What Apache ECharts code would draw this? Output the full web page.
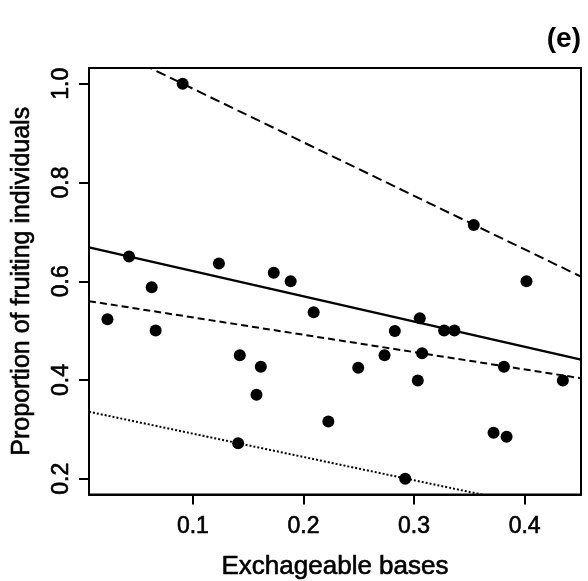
<!DOCTYPE html>
<html>
<head>
<meta charset="utf-8">
<script src="https://cdn.jsdelivr.net/npm/echarts@6/dist/echarts.min.js"></script>
<style>
html,body{margin:0;padding:0;background:#fff;}
#chart{width:588px;height:581px;}
</style>
</head>
<body>
<div id="chart"></div>
<script>
// Observed points: exchangeable bases (x) vs proportion of fruiting individuals (y)
var pointsX = [0.0227, 0.0422, 0.0627, 0.0663, 0.0907, 0.1235, 0.1409, 0.1424, 0.1575, 0.1614,
               0.1731, 0.1884, 0.2092, 0.2225, 0.2495, 0.2733, 0.2826, 0.2920, 0.3034, 0.3052,
               0.3073, 0.3272, 0.3365, 0.3540, 0.3719, 0.3813, 0.3837, 0.4017, 0.4346];
var pointsY = [0.523, 0.650, 0.588, 0.500, 1.000, 0.636, 0.272, 0.450, 0.370, 0.427,
               0.617, 0.600, 0.537, 0.316, 0.425, 0.450, 0.499, 0.200, 0.399, 0.525,
               0.454, 0.500, 0.500, 0.714, 0.293, 0.427, 0.285, 0.600, 0.399];

// Fitted lines (end points)
var lineX = [0.006, 0.451];
var solidY = [0.6686, 0.4412];
var dashedY = [0.5597, 0.4035];
var longDashY = [1.092, 0.6093];
var dottedY = [0.3356, 0.1256];

var xTicks = [0.1, 0.2, 0.3, 0.4];
var yTicks = [0.2, 0.4, 0.6, 0.8, 1.0];

function pairs(xs, ys) { return xs.map(function (x, i) { return [x, ys[i]]; }); }

var FONT = '"Liberation Sans", Arial, Helvetica, sans-serif';
var chart = echarts.init(document.getElementById('chart'), null, {renderer: 'canvas'});

function lineSeries(ys, type, width) {
  return {
    type: 'line',
    data: pairs(lineX, ys),
    showSymbol: false,
    symbol: 'none',
    clip: true,
    silent: true,
    animation: false,
    lineStyle: {color: '#000', width: width, type: type}
  };
}

var textStroke = {textBorderColor: '#000', textBorderWidth: 0.6};

chart.setOption({
  animation: false,
  backgroundColor: '#fff',
  title: {
    text: '(e)',
    right: 2,
    top: 20,
    textStyle: {fontFamily: FONT, fontSize: 28, fontWeight: 'bold', color: '#000'}
  },
  grid: {
    left: 89, top: 68, width: 492, height: 426.5,
    containLabel: false,
    outerBoundsMode: 'none',
    show: true, borderColor: '#000', borderWidth: 2, backgroundColor: 'transparent'
  },
  xAxis: {
    type: 'value',
    min: 0.006, max: 0.451,
    name: 'Exchageable bases',
    nameLocation: 'middle',
    nameGap: 59,
    nameTextStyle: Object.assign({fontFamily: FONT, fontSize: 26, color: '#000'}, textStroke),
    axisLine: {show: true, onZero: false, lineStyle: {color: '#000', width: 2}},
    axisTick: {show: true, length: 10, inside: false, customValues: xTicks, lineStyle: {color: '#000', width: 2}},
    axisLabel: Object.assign({customValues: xTicks, margin: 21, fontFamily: FONT, fontSize: 23, color: '#000',
      formatter: function (v) { return v.toFixed(1); }}, textStroke),
    splitLine: {show: false}
  },
  yAxis: {
    type: 'value',
    min: 0.168, max: 1.032,
    name: 'Proportion of fruiting individuals',
    nameLocation: 'middle',
    nameGap: 54,
    nameRotate: 90,
    nameTextStyle: Object.assign({fontFamily: FONT, fontSize: 25, color: '#000'}, textStroke),
    axisLine: {show: true, onZero: false, lineStyle: {color: '#000', width: 2}},
    axisTick: {show: true, length: 10, inside: false, customValues: yTicks, lineStyle: {color: '#000', width: 2}},
    axisLabel: Object.assign({customValues: yTicks, rotate: 90, margin: 16, fontFamily: FONT, fontSize: 23, color: '#000',
      formatter: function (v) { return v.toFixed(1); }}, textStroke),
    splitLine: {show: false}
  },
  series: [
    lineSeries(longDashY, [10, 5], 2),
    lineSeries(solidY, 'solid', 2.5),
    lineSeries(dashedY, [7, 4], 2),
    lineSeries(dottedY, [2, 2], 2),
    {
      type: 'scatter',
      data: pairs(pointsX, pointsY),
      symbol: 'circle',
      symbolSize: 12,
      itemStyle: {color: '#000', opacity: 1},
      silent: true,
      z: 5
    }
  ]
});
</script>
</body>
</html>
